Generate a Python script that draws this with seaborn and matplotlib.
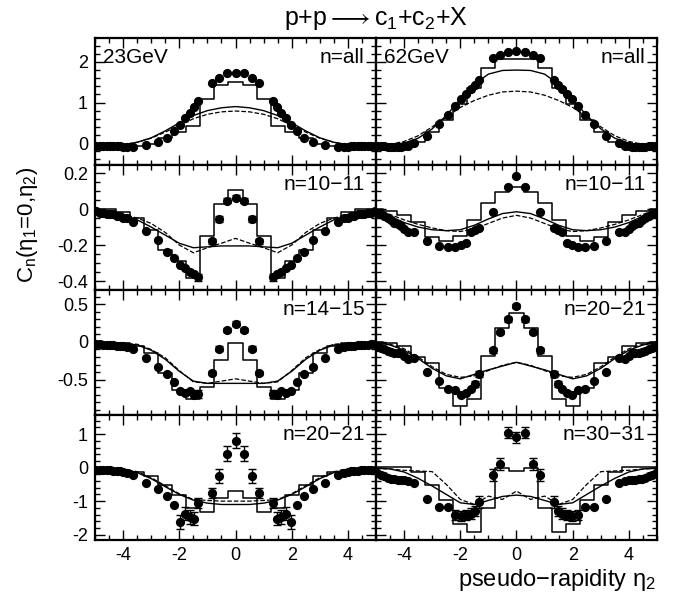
import numpy as np
import pandas as pd
import matplotlib
matplotlib.use("Agg")
import matplotlib.pyplot as plt
import seaborn as sns
from matplotlib.ticker import MultipleLocator, FuncFormatter

sns.set_theme(style="ticks")
plt.rcParams['font.family'] = ['Liberation Sans', 'DejaVu Sans']
plt.rcParams['mathtext.fontset'] = 'custom'
plt.rcParams['mathtext.rm'] = 'Liberation Sans'
plt.rcParams['mathtext.it'] = 'Liberation Sans:italic'
plt.rcParams['mathtext.default'] = 'regular'
plt.rcParams['axes.unicode_minus'] = False

# ---------------- data ----------------
eta_pts = [-4.95, -4.83, -4.71, -4.59, -4.47, -4.35, -4.23, -4.11, -3.99, -3.87, -3.64, -3.2,
           -2.77, -2.45, -2.19, -1.97, -1.78, -1.62, -1.48, -1.33, -0.85, -0.58, -0.3, 0.0,
           0.3, 0.58, 0.85, 1.33, 1.48, 1.62, 1.78, 1.97, 2.19, 2.45, 2.77, 3.2, 3.64,
           3.87, 3.99, 4.11, 4.23, 4.35, 4.47, 4.59, 4.71, 4.83, 4.95]
eta_bins = [-5.0, -4.5, -4.0, -3.5, -3.0, -2.5, -2.0, -1.5, -1.0, -0.5, 0.0,
            0.5, 1.0, 1.5, 2.0, 2.5, 3.0, 3.5, 4.0, 4.5, 5.0]
nan = float('nan')

# 23 GeV, n=all
dots_23_all = [-0.07, -0.07, -0.07, -0.07, -0.08, -0.08, -0.08, -0.08, -0.09, -0.09, -0.10, -0.05,
               0.03, 0.12, 0.30, 0.44, 0.61, 0.73, 0.90, 1.04, 1.49, 1.60, 1.72, 1.72,
               1.72, 1.60, 1.49, 1.04, 0.90, 0.73, 0.61, 0.44, 0.30, 0.12, 0.03, -0.05, -0.10,
               -0.09, -0.09, -0.08, -0.08, -0.08, -0.08, -0.07, -0.07, -0.07, -0.07]
err_23_all = [0.0] * 47
hist_23_all = [-0.08, -0.08, -0.08, -0.06, -0.02, 0.12, 0.28, 0.42, 1.08, 1.43, 1.51,
               1.43, 1.08, 0.42, 0.28, 0.12, -0.02, -0.06, -0.08, -0.08, -0.08]
solid_23_all = [-0.07, -0.06, -0.04, 0.02, 0.13, 0.30, 0.50, 0.68, 0.80, 0.87, 0.90,
                0.87, 0.80, 0.68, 0.50, 0.30, 0.13, 0.02, -0.04, -0.06, -0.07]
dash_23_all = [-0.07, -0.06, -0.04, 0.02, 0.12, 0.27, 0.44, 0.60, 0.71, 0.77, 0.79,
               0.77, 0.71, 0.60, 0.44, 0.27, 0.12, 0.02, -0.04, -0.06, -0.07]

# 62 GeV, n=all
dots_62_all = [-0.08, -0.08, -0.08, -0.09, -0.09, -0.09, -0.09, -0.09, -0.08, -0.07, -0.01, 0.17,
               0.47, 0.70, 0.91, 1.08, 1.22, 1.33, 1.43, 1.55, 2.09, 2.17, 2.25, 2.28,
               2.25, 2.17, 2.09, 1.55, 1.43, 1.33, 1.22, 1.08, 0.91, 0.70, 0.47, 0.17, -0.01,
               -0.07, -0.08, -0.09, -0.09, -0.09, -0.09, -0.09, -0.08, -0.08, -0.08]
err_62_all = [0.0] * 47
hist_62_all = [-0.08, -0.08, -0.08, 0.03, 0.28, 0.57, 0.96, 1.35, 1.84, 2.07, 2.07,
               2.07, 1.84, 1.35, 0.96, 0.57, 0.28, 0.03, -0.08, -0.08, -0.08]
solid_62_all = [-0.07, -0.05, 0.00, 0.12, 0.35, 0.68, 1.08, 1.45, 1.70, 1.79, 1.80,
                1.79, 1.70, 1.45, 1.08, 0.68, 0.35, 0.12, 0.00, -0.05, -0.07]
dash_62_all = [-0.06, -0.03, 0.04, 0.18, 0.40, 0.64, 0.88, 1.05, 1.18, 1.26, 1.28,
               1.26, 1.18, 1.05, 0.88, 0.64, 0.40, 0.18, 0.04, -0.03, -0.06]

# 23 GeV, n=10-11
dots_23_n10 = [-0.01, -0.02, -0.02, -0.03, -0.03, -0.03, -0.04, -0.04, -0.05, -0.05, -0.07, -0.12,
               -0.17, -0.24, -0.27, -0.31, -0.33, -0.35, -0.36, -0.38, -0.18, -0.056, 0.046, 0.063,
               0.046, -0.056, -0.18, -0.38, -0.36, -0.35, -0.33, -0.31, -0.27, -0.24, -0.17, -0.12, -0.07,
               -0.05, -0.05, -0.04, -0.04, -0.03, -0.03, -0.03, -0.02, -0.02, -0.01]
err_23_n10 = [0, 0, 0, 0, 0, 0, 0, 0, 0, 0, 0, 0,
              0, 0, 0, 0, 0, 0, 0, 0.02, 0.015, 0.015, 0.015, 0.015,
              0.015, 0.015, 0.015, 0.02, 0, 0, 0, 0, 0, 0, 0, 0, 0,
              0, 0, 0, 0, 0, 0, 0, 0, 0, 0]
hist_23_n10 = [0.0, 0.0, -0.015, -0.05, -0.117, -0.23, -0.29, -0.385, -0.15, 0.028, 0.105,
               0.028, -0.15, -0.385, -0.29, -0.23, -0.117, -0.05, -0.015, 0.0, 0.0]
solid_23_n10 = [-0.01, -0.03, -0.045, -0.06, -0.10, -0.145, -0.19, -0.215, -0.21, -0.205, -0.205,
                -0.205, -0.21, -0.215, -0.19, -0.145, -0.10, -0.06, -0.045, -0.03, -0.01]
dash_23_n10 = [0.0, -0.02, -0.03, -0.05, -0.08, -0.13, -0.20, -0.243, -0.215, -0.19, -0.163,
               -0.19, -0.215, -0.243, -0.20, -0.13, -0.08, -0.05, -0.03, -0.02, 0.0]

# 62 GeV, n=10-11
dots_62_n10 = [-0.02, -0.03, -0.04, -0.05, -0.063, -0.075, -0.085, -0.095, -0.11, -0.125, -0.128, -0.176,
               -0.205, -0.21, -0.21, -0.20, -0.19, -0.125, -0.115, -0.105, -0.015, nan, 0.124, 0.183,
               0.124, nan, -0.015, -0.105, -0.115, -0.125, -0.19, -0.20, -0.21, -0.21, -0.205, -0.176, -0.128,
               -0.125, -0.11, -0.095, -0.085, -0.075, -0.063, -0.05, -0.04, -0.03, -0.02]
err_62_n10 = [0.0] * 47
hist_62_n10 = [0.0, -0.011, -0.033, -0.07, -0.157, -0.18, -0.15, -0.061, 0.035, 0.096, 0.12,
               0.096, 0.035, -0.061, -0.15, -0.18, -0.157, -0.07, -0.033, -0.011, 0.0]
solid_62_n10 = [-0.01, -0.04, -0.075, -0.10, -0.115, -0.12, -0.115, -0.09, -0.055, -0.025, -0.015,
                -0.025, -0.055, -0.09, -0.115, -0.12, -0.115, -0.10, -0.075, -0.04, -0.01]
dash_62_n10 = [0.0, -0.03, -0.06, -0.085, -0.105, -0.12, -0.125, -0.11, -0.08, -0.05, -0.035,
               -0.05, -0.08, -0.11, -0.125, -0.12, -0.105, -0.085, -0.06, -0.03, 0.0]

# 23 GeV, n=14-15
dots_23_n14 = [-0.03, -0.03, -0.035, -0.04, -0.04, -0.045, -0.05, -0.055, -0.06, -0.07, -0.09, -0.21,
               -0.33, -0.43, -0.53, -0.65, -0.68, -0.65, -0.70, -0.69, -0.41, -0.09, 0.16, 0.245,
               0.16, -0.09, -0.41, -0.69, -0.70, -0.65, -0.68, -0.65, -0.53, -0.43, -0.33, -0.21, -0.09,
               -0.07, -0.06, -0.055, -0.05, -0.045, -0.04, -0.04, -0.035, -0.03, -0.03]
err_23_n14 = [0, 0, 0, 0, 0, 0, 0, 0, 0, 0, 0, 0,
              0, 0, 0, 0, 0, 0, 0.05, 0.05, 0.03, 0.03, 0.03, 0.03,
              0.03, 0.03, 0.03, 0.05, 0.05, 0, 0, 0, 0, 0, 0, 0, 0,
              0, 0, 0, 0, 0, 0, 0, 0, 0, 0]
hist_23_n14 = [0.0, -0.01, -0.01, -0.06, -0.15, -0.41, -0.64, -0.76, -0.60, -0.24, -0.02,
               -0.24, -0.60, -0.76, -0.64, -0.41, -0.15, -0.06, -0.01, -0.01, 0.0]
solid_23_n14 = [-0.01, -0.01, -0.02, -0.04, -0.11, -0.23, -0.39, -0.52, -0.55, -0.55, -0.55,
                -0.55, -0.55, -0.52, -0.39, -0.23, -0.11, -0.04, -0.02, -0.01, -0.01]
dash_23_n14 = [-0.01, -0.01, -0.02, -0.03, -0.10, -0.21, -0.38, -0.53, -0.55, -0.52, -0.49,
               -0.52, -0.55, -0.53, -0.38, -0.21, -0.10, -0.03, -0.02, -0.01, -0.01]

# 62 GeV, n=20-21
dots_62_n20 = [-0.07, -0.08, -0.10, -0.12, -0.13, -0.14, -0.14, -0.15, -0.19, -0.23, -0.21, -0.40,
               -0.52, -0.63, -0.64, -0.70, -0.68, -0.62, -0.56, -0.43, -0.11, 0.13, 0.30, 0.48,
               0.30, 0.13, -0.11, -0.43, -0.56, -0.62, -0.68, -0.70, -0.64, -0.63, -0.52, -0.40, -0.21,
               -0.23, -0.19, -0.15, -0.14, -0.14, -0.13, -0.12, -0.10, -0.08, -0.07]
err_62_n20 = [0, 0, 0, 0, 0, 0, 0, 0, 0, 0, 0, 0,
              0, 0, 0, 0, 0, 0, 0.04, 0.04, 0.03, 0.03, 0.03, 0.03,
              0.03, 0.03, 0.03, 0.04, 0.04, 0, 0, 0, 0, 0, 0, 0, 0,
              0, 0, 0, 0, 0, 0, 0, 0, 0, 0]
hist_62_n20 = [0.0, -0.01, -0.05, -0.20, -0.28, -0.61, -0.85, -0.76, -0.19, 0.19, 0.39,
               0.19, -0.19, -0.76, -0.85, -0.61, -0.28, -0.20, -0.05, -0.01, 0.0]
solid_62_n20 = [-0.01, -0.04, -0.11, -0.22, -0.35, -0.45, -0.49, -0.43, -0.37, -0.32, -0.27,
                -0.32, -0.37, -0.43, -0.49, -0.45, -0.35, -0.22, -0.11, -0.04, -0.01]
dash_62_n20 = [0.0, -0.03, -0.09, -0.20, -0.33, -0.43, -0.47, -0.45, -0.38, -0.31, -0.27,
               -0.31, -0.38, -0.45, -0.47, -0.43, -0.33, -0.20, -0.09, -0.03, 0.0]

# 23 GeV, n=20-21
dots_23_n20 = [-0.07, -0.07, -0.075, -0.08, -0.085, -0.09, -0.10, -0.11, -0.13, -0.15, -0.22, -0.47,
               -0.65, -0.85, -1.12, -1.62, -1.37, -1.47, -1.52, -1.07, -0.75, -0.25, 0.42, 0.80,
               0.42, -0.25, -0.75, -1.07, -1.52, -1.47, -1.37, -1.62, -1.12, -0.85, -0.65, -0.47, -0.22,
               -0.15, -0.13, -0.11, -0.10, -0.09, -0.085, -0.08, -0.075, -0.07, -0.07]
err_23_n20 = [0, 0, 0, 0, 0, 0, 0, 0, 0, 0, 0, 0,
              0, 0, 0, 0.2, 0.2, 0.2, 0.2, 0.15, 0.15, 0.2, 0.22, 0.22,
              0.22, 0.2, 0.15, 0.15, 0.2, 0.2, 0.2, 0.2, 0, 0, 0, 0, 0,
              0, 0, 0, 0, 0, 0, 0, 0, 0, 0]
hist_23_n20 = [-0.07, -0.07, -0.07, -0.13, -0.25, -0.52, -0.82, -1.22, -1.32, -0.92, -0.69,
               -0.92, -1.32, -1.22, -0.82, -0.52, -0.25, -0.13, -0.07, -0.07, -0.07]
solid_23_n20 = [-0.02, -0.03, -0.06, -0.15, -0.33, -0.57, -0.80, -0.97, -1.06, -1.10, -1.10,
                -1.10, -1.06, -0.97, -0.80, -0.57, -0.33, -0.15, -0.06, -0.03, -0.02]
dash_23_n20 = [-0.02, -0.03, -0.05, -0.12, -0.30, -0.54, -0.78, -0.95, -0.98, -1.00, -1.00,
               -1.00, -0.98, -0.95, -0.78, -0.54, -0.30, -0.12, -0.05, -0.03, -0.02]

# 62 GeV, n=30-31
dots_62_n30 = [-0.15, -0.22, -0.25, -0.30, -0.33, -0.35, -0.36, -0.37, -0.38, -0.39, -0.47, -0.95,
               -1.17, -1.17, -1.42, -1.45, -1.42, -1.37, -1.30, -1.02, -0.22, 0.12, 1.04, 0.90,
               1.04, 0.12, -0.22, -1.02, -1.30, -1.37, -1.42, -1.45, -1.42, -1.17, -1.17, -0.95, -0.47,
               -0.39, -0.38, -0.37, -0.36, -0.35, -0.33, -0.30, -0.25, -0.22, -0.15]
err_62_n30 = [0, 0, 0, 0, 0, 0, 0, 0, 0, 0, 0, 0,
              0, 0, 0.15, 0.15, 0.15, 0.15, 0.15, 0.18, 0.18, 0.18, 0.17, 0.17,
              0.17, 0.18, 0.18, 0.18, 0.15, 0.15, 0.15, 0.15, 0.15, 0, 0, 0, 0,
              0, 0, 0, 0, 0, 0, 0, 0, 0, 0]
hist_62_n30 = [0.02, 0.02, 0.02, -0.12, -0.52, -0.97, -1.67, -1.92, -1.22, 0.0, -0.10,
               0.0, -1.22, -1.92, -1.67, -0.97, -0.52, -0.12, 0.02, 0.02, 0.02]
solid_62_n30 = [-0.01, -0.04, -0.13, -0.32, -0.55, -0.80, -1.05, -1.10, -0.98, -0.86, -0.82,
                -0.86, -0.98, -1.10, -1.05, -0.80, -0.55, -0.32, -0.13, -0.04, -0.01]
dash_62_n30 = [-0.02, -0.04, -0.08, -0.10, -0.12, -0.50, -0.95, -1.10, -0.85, -0.95, -0.70,
               -0.95, -0.85, -1.10, -0.95, -0.50, -0.12, -0.10, -0.08, -0.04, -0.02]

energy_labels = ["23GeV", "62GeV"]
n_labels = [["n=all", "n=all"], ["n=10\u221211", "n=10\u221211"],
            ["n=14\u221215", "n=20\u221221"], ["n=20\u221221", "n=30\u221231"]]

panels = [
    [(dots_23_all, err_23_all, hist_23_all, solid_23_all, dash_23_all),
     (dots_62_all, err_62_all, hist_62_all, solid_62_all, dash_62_all)],
    [(dots_23_n10, err_23_n10, hist_23_n10, solid_23_n10, dash_23_n10),
     (dots_62_n10, err_62_n10, hist_62_n10, solid_62_n10, dash_62_n10)],
    [(dots_23_n14, err_23_n14, hist_23_n14, solid_23_n14, dash_23_n14),
     (dots_62_n20, err_62_n20, hist_62_n20, solid_62_n20, dash_62_n20)],
    [(dots_23_n20, err_23_n20, hist_23_n20, solid_23_n20, dash_23_n20),
     (dots_62_n30, err_62_n30, hist_62_n30, solid_62_n30, dash_62_n30)],
]

# ---------------- layout ----------------
W, H = 686, 609
col_x = [95, 376]
col_w = 281
row_top = [38, 165, 290, 415]
row_h = [127, 125, 125, 125]
ylims = [(-0.54, 2.59), (-0.45, 0.245), (-0.97, 0.69), (-2.16, 1.57)]
ymaj = [1.0, 0.2, 0.5, 1.0]
ymin = [0.2, 0.05, 0.1, 0.2]

fig = plt.figure(figsize=(W / 100, H / 100), dpi=100)
fmt = FuncFormatter(lambda v, p: ("%g" % round(v, 3)))

for r in range(4):
    for c in range(2):
        dots, err, hist, solid, dash = panels[r][c]
        x0 = col_x[c]
        ax = fig.add_axes([x0 / W, 1 - (row_top[r] + row_h[r]) / H, col_w / W, row_h[r] / H])
        ax.set_facecolor('white')
        sns.lineplot(x=eta_bins, y=hist, ax=ax, color='black', lw=1.1,
                     drawstyle='steps-mid', estimator=None)
        sns.lineplot(x=eta_bins, y=solid, ax=ax, color='black', lw=1.0, estimator=None)
        sns.lineplot(x=eta_bins, y=dash, ax=ax, color='black', lw=0.9, estimator=None,
                     dashes=(4, 3), linestyle='--')
        ex = [e for e, v in zip(eta_pts, err) if v > 0]
        ey = [d for d, v in zip(dots, err) if v > 0]
        ee = [v for v in err if v > 0]
        if ee:
            ax.errorbar(ex, ey, yerr=ee, fmt='none', ecolor='black', elinewidth=1.0,
                        capsize=3, capthick=1.0)
        sns.scatterplot(x=eta_pts, y=dots, ax=ax, color='black', s=44, linewidth=0,
                        zorder=5)
        ax.set_xlim(-5, 5)
        ax.set_ylim(*ylims[r])
        ax.xaxis.set_major_locator(MultipleLocator(2))
        ax.xaxis.set_minor_locator(MultipleLocator(0.5))
        ax.yaxis.set_major_locator(MultipleLocator(ymaj[r]))
        ax.yaxis.set_minor_locator(MultipleLocator(ymin[r]))
        ax.tick_params(which='both', direction='in', top=True, right=True,
                       labelsize=13, colors='black', pad=5)
        ax.tick_params(which='major', length=7, width=1.0)
        ax.tick_params(which='minor', length=3.5, width=1.0)
        ax.yaxis.set_major_formatter(fmt)
        ax.xaxis.set_major_formatter(fmt)
        if c == 1:
            ax.tick_params(labelleft=False)
        if r < 3:
            ax.tick_params(labelbottom=False)
        for sp in ax.spines.values():
            sp.set_linewidth(1.6)
            sp.set_color('black')
        ax.set_xlabel('')
        ax.set_ylabel('')
        ax.text(0.96, 0.92, n_labels[r][c], transform=ax.transAxes, ha='right', va='top',
                fontsize=15, color='black')
        if r == 0:
            ax.text(0.03, 0.92, energy_labels[c], transform=ax.transAxes, ha='left', va='top',
                    fontsize=15, color='black')

fig.text(376 / W, 1 - 18 / H, r'p+p$\longrightarrow$c$_1$+c$_2$+X', ha='center', va='center',
         fontsize=18, color='black')
fig.text(27 / W, 1 - 225 / H, r'C$_n$($\eta_1$=0,$\eta_2$)', rotation=90, ha='center',
         va='center', fontsize=16, color='black')
fig.text(656 / W, 1 - 580 / H, r'pseudo$-$rapidity $\eta_2$', ha='right', va='center',
         fontsize=17, color='black')

fig.savefig('out.png', dpi=100, facecolor='white')
